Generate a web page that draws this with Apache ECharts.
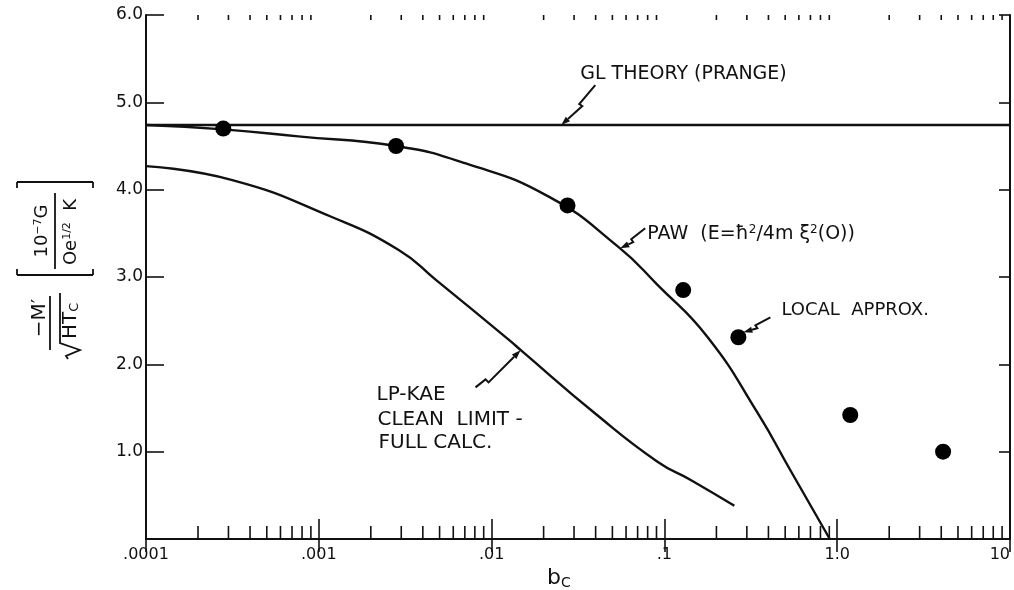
<!DOCTYPE html>
<html>
<head>
<meta charset="utf-8">
<script src="https://cdn.jsdelivr.net/npm/echarts@6/dist/echarts.min.js"></script>
<style>
  html, body { margin: 0; padding: 0; background: #fff; }
  #chart { width: 1014px; height: 590px; }
</style>
</head>
<body>
<div id="chart"></div>
<script>
// Tick labels
const xTickLabels = ['.0001', '.001', '.01', '.1', '1.0', '10'];
const yTickLabels = ['', '1.0', '2.0', '3.0', '4.0', '5.0', '6.0'];
const minorMultipliers = [2, 3, 4, 5, 6, 7, 8, 9];
const decadeStarts = [0.0001, 0.001, 0.01, 0.1, 1];

// GL theory (Prange): constant level
const glTheory = [[0.0001, 4.74], [10, 4.74]];

// PAW curve, E = hbar^2 / 4 m xi^2(0)
const pawCurve = [
  [0.0001, 4.74], [0.00028, 4.69], [0.00076, 4.61], [0.0028, 4.50],
  [0.0071, 4.30], [0.0214, 3.92], [0.0537, 3.35], [0.0912, 2.91],
  [0.178, 2.31], [0.347, 1.44], [0.542, 0.77], [0.906, 0.0]
];

// LP-KAE clean limit, full calculation
const lpKaeCurve = [
  [0.0001, 4.27], [0.000316, 4.11], [0.00118, 3.69], [0.0029, 3.31],
  [0.00474, 2.97], [0.0126, 2.28], [0.0151, 2.145], [0.0396, 1.44],
  [0.0912, 0.885], [0.142, 0.676], [0.254, 0.38]
];

// Local approximation points
const localApprox = [
  [0.00028, 4.70], [0.0028, 4.50], [0.0275, 3.82], [0.1285, 2.85],
  [0.268, 2.31], [1.19, 1.42], [4.1, 1.0]
];

const minorTicks = [];
decadeStarts.forEach(d => minorMultipliers.forEach(m => minorTicks.push([m * d, 0])));

const FONT = 'DejaVu Sans';
const INK = '#111';
const yMax = yTickLabels.length - 1;

const chart = echarts.init(document.getElementById('chart'), null, { renderer: 'canvas' });

const axisLineStyle = { color: INK, width: 2 };
const tickStyle = { color: INK, width: 1.6 };

chart.setOption({
  animation: false,
  backgroundColor: '#fff',
  textStyle: { fontFamily: FONT, color: INK },
  grid: { left: 146, right: 4, top: 15, bottom: 51 },
  xAxis: [
    {
      type: 'log', logBase: 10, min: 0.0001, max: 10, position: 'bottom',
      axisLine: { lineStyle: axisLineStyle },
      axisTick: { inside: true, length: 20, lineStyle: tickStyle },
      axisLabel: {
        color: INK, fontSize: 16, fontFamily: FONT, margin: 8,
        alignMaxLabel: 'right',
        formatter: v => xTickLabels[Math.round(Math.log10(v)) + 4]
      },
      splitLine: { show: false }
    },
    {
      type: 'log', logBase: 10, min: 0.0001, max: 10, position: 'top',
      axisLine: { lineStyle: axisLineStyle },
      axisTick: { inside: true, length: 13, lineStyle: tickStyle },
      axisLabel: { show: false },
      splitLine: { show: false }
    }
  ],
  yAxis: [
    {
      type: 'value', min: 0, max: yMax, interval: 1, position: 'left',
      axisLine: { show: true, lineStyle: axisLineStyle },
      axisTick: { show: true, inside: true, length: 18, lineStyle: tickStyle },
      axisLabel: {
        color: INK, fontSize: 17, fontFamily: FONT, margin: 3,
        formatter: v => yTickLabels[Math.round(v)]
      },
      splitLine: { show: false }
    },
    {
      type: 'value', min: 0, max: yMax, interval: 1, position: 'right',
      axisLine: { show: true, lineStyle: axisLineStyle },
      axisTick: { show: true, inside: true, length: 11, lineStyle: tickStyle },
      axisLabel: { show: false },
      splitLine: { show: false }
    }
  ],
  series: [
    {
      name: 'GL theory', type: 'line', data: glTheory, symbol: 'none',
      lineStyle: { color: INK, width: 2.4 }, z: 3
    },
    {
      name: 'PAW', type: 'line', data: pawCurve, symbol: 'none', smooth: 0.5,
      lineStyle: { color: INK, width: 2.4 }, z: 3
    },
    {
      name: 'LP-KAE', type: 'line', data: lpKaeCurve, symbol: 'none', smooth: 0.5,
      lineStyle: { color: INK, width: 2.4 }, z: 3
    },
    {
      name: 'Local approx.', type: 'scatter', data: localApprox, symbol: 'circle', symbolSize: 16,
      itemStyle: { color: '#000', opacity: 1 }, z: 5
    },
    {
      // minor log ticks on bottom and top frame
      name: 'minor ticks', type: 'custom', data: minorTicks, silent: true, clip: false, z: 4,
      encode: { x: 0, y: 1 },
      renderItem: (params, api) => {
        const x = api.value(0);
        const b = api.coord([x, 0]);
        const t = api.coord([x, yMax]);
        const st = { stroke: INK, lineWidth: 1.6 };
        return {
          type: 'group',
          children: [
            { type: 'line', shape: { x1: b[0], y1: b[1], x2: b[0], y2: b[1] - 13 }, style: st },
            { type: 'line', shape: { x1: t[0], y1: t[1], x2: t[0], y2: t[1] + 5 }, style: st }
          ]
        };
      }
    }
  ]
});

// ---- annotations with lightning-style pointer arrows ----
const toPx = p => chart.convertToPixel({ xAxisIndex: 0, yAxisIndex: 0 }, p);

function arrow(tip, rel) {
  const pts = rel.map(p => [tip[0] + p[0], tip[1] + p[1]]);
  const prev = pts[pts.length - 1];
  const dx = tip[0] - prev[0], dy = tip[1] - prev[1];
  const len = Math.hypot(dx, dy);
  const ux = dx / len, uy = dy / len;
  const L = 9, W = 3.2;
  const base = [tip[0] - ux * L, tip[1] - uy * L];
  return [
    { type: 'polyline', shape: { points: pts.concat([base]) }, style: { stroke: INK, lineWidth: 2, fill: null }, z: 10 },
    { type: 'polygon', shape: { points: [tip, [base[0] - uy * W, base[1] + ux * W], [base[0] + uy * W, base[1] - ux * W]] }, style: { fill: INK }, z: 10 }
  ];
}

function label(text, x, y, size, rich) {
  return {
    type: 'text', x: x, y: y, z: 10,
    style: { text: text, fill: INK, fontFamily: FONT, fontSize: size, align: 'left', verticalAlign: 'middle', rich: rich || {} }
  };
}

const graphics = [];

// GL theory
const tipGL = toPx([0.0253, 4.74]);
graphics.push(...arrow(tipGL, [[34, -40], [18, -21], [21, -19]]));
graphics.push(label('GL THEORY (PRANGE)', tipGL[0] + 19, tipGL[1] - 51, 19));

// PAW
const tipPAW = toPx([0.0555, 3.33]);
graphics.push(...arrow(tipPAW, [[25, -20], [11, -9], [13, -6]]));
graphics.push(label('PAW  (E=ħ{sup|2}/4m ξ{sup|2}(O))', tipPAW[0] + 27, tipPAW[1] - 14, 19,
  { sup: { fontSize: 12, fontFamily: FONT, fill: INK, verticalAlign: 'top', padding: [0, 0, 8, 0] } }));

// Local approximation
const dot5 = toPx(localApprox[4]);
const tipLoc = [dot5[0] + 5, dot5[1] - 5];
graphics.push(...arrow(tipLoc, [[27, -15], [12, -7], [14, -4]]));
graphics.push(label('LOCAL  APPROX.', tipLoc[0] + 38, tipLoc[1] - 22, 18));

// LP-KAE
const tipLP = toPx([0.0147, 2.16]);
graphics.push(...arrow(tipLP, [[-45, 37], [-35, 29], [-32, 32]]));
graphics.push(label('LP-KAE', tipLP[0] - 144, tipLP[1] + 44, 20));
graphics.push(label('CLEAN  LIMIT -', tipLP[0] - 143, tipLP[1] + 69, 20));
graphics.push(label('FULL CALC.', tipLP[0] - 142, tipLP[1] + 92, 20));

// x-axis title: b_C
graphics.push({
  type: 'text', x: 547, y: 578, z: 10,
  style: {
    text: '{b|b}{c|C}', fill: INK, fontFamily: FONT, align: 'left', verticalAlign: 'middle',
    rich: {
      b: { fontSize: 22, fontFamily: FONT, fill: INK },
      c: { fontSize: 14, fontFamily: FONT, fill: INK, verticalAlign: 'bottom', padding: [10, 0, 0, 0] }
    }
  }
});

// y-axis title, laid out in a rotated frame (u along reading direction, v across)
const yt = { fill: INK, fontFamily: FONT, align: 'center', verticalAlign: 'middle' };
const ln = (x1, y1, x2, y2, w) => ({ type: 'line', shape: { x1, y1, x2, y2 }, style: { stroke: INK, lineWidth: w || 1.8 } });
graphics.push({
  type: 'group', x: 55, y: 271, rotation: Math.PI / 2, z: 10,
  children: [
    // -M' / sqrt(H Tc)
    { type: 'text', x: -47, y: -15, style: Object.assign({ text: '−M′', fontSize: 20 }, yt) },
    ln(-79, -5, -25, -5),
    {
      type: 'text', x: -68, y: 16,
      style: Object.assign({}, yt, {
        align: 'left', text: 'HT{sub|C}', fontSize: 20,
        rich: { sub: { fontSize: 13, fontFamily: FONT, fill: INK, verticalAlign: 'bottom', padding: [8, 0, 0, 0] } }
      })
    },
    { type: 'polyline', shape: { points: [[-88, 13], [-85, 11], [-79, 25], [-72, 5], [-22, 5]] }, style: { stroke: INK, lineWidth: 1.8, fill: null } },
    // bracketed units
    ln(-4, -38, -4, 38), ln(-4, -38, 2, -38), ln(-4, 38, 2, 38),
    ln(89, -38, 89, 38), ln(89, -38, 83, -38), ln(89, 38, 83, 38),
    {
      type: 'text', x: 40, y: -13,
      style: Object.assign({}, yt, {
        text: '10{sup|−7}G', fontSize: 18,
        rich: { sup: { fontSize: 11, fontFamily: FONT, fill: INK, verticalAlign: 'top', padding: [0, 0, 7, 0] } }
      })
    },
    ln(2, 0, 78, 0),
    {
      type: 'text', x: 39, y: 16,
      style: Object.assign({}, yt, {
        text: 'Oe{sup|1/2}  K', fontSize: 18,
        rich: { sup: { fontSize: 11, fontFamily: FONT, fill: INK, verticalAlign: 'top', padding: [0, 0, 7, 0] } }
      })
    }
  ]
});

chart.setOption({ graphic: graphics });
</script>
</body>
</html>
